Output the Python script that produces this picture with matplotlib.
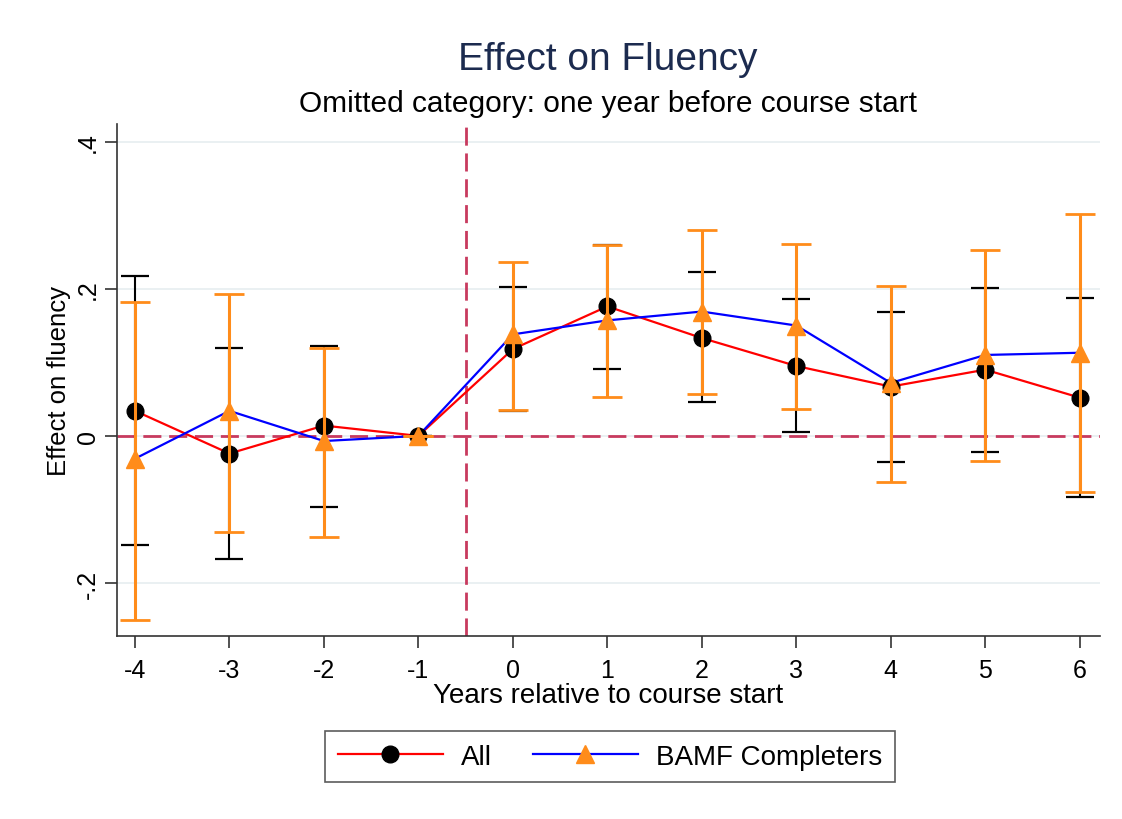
import matplotlib.pyplot as plt
from matplotlib.lines import Line2D

plt.rcParams['font.family'] = ['Liberation Sans', 'DejaVu Sans']

years = [-4, -3, -2, -1, 0, 1, 2, 3, 4, 5, 6]

all_est = [0.034, -0.024, 0.014, 0.0, 0.118, 0.176, 0.133, 0.095, 0.067, 0.090, 0.052]
all_hi = [0.218, 0.120, 0.122, 0.0, 0.203, 0.260, 0.223, 0.186, 0.169, 0.201, 0.188]
all_lo = [-0.148, -0.167, -0.097, 0.0, 0.034, 0.091, 0.046, 0.005, -0.035, -0.022, -0.083]

bamf_est = [-0.031, 0.034, -0.007, 0.0, 0.138, 0.157, 0.169, 0.150, 0.072, 0.110, 0.113]
bamf_hi = [0.182, 0.193, 0.120, 0.0, 0.237, 0.260, 0.280, 0.261, 0.204, 0.253, 0.302]
bamf_lo = [-0.250, -0.131, -0.138, 0.0, 0.035, 0.053, 0.057, 0.037, -0.063, -0.034, -0.076]

yticks = [-0.2, 0, 0.2, 0.4]
ytick_labels = ['-.2', '0', '.2', '.4']

navy = '#1c2b4f'
orange = '#ff8c1a'
ref_col = '#c83a5e'

fig = plt.figure(figsize=(11.22, 8.2), dpi=100)
ax = fig.add_axes([0.1043, 0.2232, 0.8757, 0.6244])

ax.axhline(0, color=ref_col, lw=2.0, ls=(0, (6.5, 2.8)), zorder=1)
ax.axvline(-0.5, color=ref_col, lw=2.0, ls=(0, (6.5, 2.8)), zorder=1)

# black CIs for All
err_all = [[e - l for e, l in zip(all_est, all_lo)], [h - e for e, h in zip(all_est, all_hi)]]
ax.errorbar(years, all_est, yerr=err_all, fmt='none', ecolor='black', elinewidth=1.5,
            capsize=10, capthick=1.6, zorder=2)
ax.plot(years, all_est, color='red', lw=1.6, zorder=3)
ax.plot(years, all_est, 'o', color='black', ms=12, zorder=4, ls='none')

ax.plot(years, bamf_est, color='blue', lw=1.6, zorder=3)
err_b = [[e - l for e, l in zip(bamf_est, bamf_lo)], [h - e for e, h in zip(bamf_est, bamf_hi)]]
ax.errorbar(years, bamf_est, yerr=err_b, fmt='none', ecolor=orange, elinewidth=2.2,
            capsize=11, capthick=2.0, zorder=5)
ax.plot(years, bamf_est, '^', color=orange, ms=13, zorder=6, ls='none')

ax.set_xlim(-4.19, 6.21)
ax.set_ylim(-0.272, 0.424)
ax.set_xticks(years)
ax.set_xticklabels([str(y) for y in years], fontsize=18)
ax.set_yticks(yticks)
ax.set_yticklabels(ytick_labels, fontsize=18, rotation=90, va='center')
ax.tick_params(axis='both', length=8.5, width=1.2, color='#333333')
ax.tick_params(axis='x', pad=7)
ax.tick_params(axis='y', pad=4)
ax.grid(axis='y', color='#e6eef0', lw=1.2, zorder=0)
ax.set_axisbelow(True)
for s in ['top', 'right']:
    ax.spines[s].set_visible(False)
for s in ['left', 'bottom']:
    ax.spines[s].set_color('#333333')
    ax.spines[s].set_linewidth(1.2)

ax.set_xlabel('Years relative to course start', fontsize=20, labelpad=0)
ax.set_ylabel('Effect on fluency', fontsize=18.5, labelpad=3)

fig.text(0.542, 0.927, 'Effect on Fluency', fontsize=28, color=navy, ha='center', va='center')
fig.text(0.542, 0.873, 'Omitted category: one year before course start', fontsize=21.5,
         color='black', ha='center', va='center')

handles = [
    Line2D([0], [0], color='red', lw=1.6, marker='o', mfc='black', mec='black', ms=12),
    Line2D([0], [0], color='blue', lw=1.6, marker='^', mfc=orange, mec=orange, ms=13),
]
leg = fig.legend(handles, ['All', 'BAMF Completers'], loc='center', ncol=2,
                 bbox_to_anchor=(0.5437, 0.0762), fontsize=20, frameon=True, fancybox=False,
                 edgecolor='#333333', handlelength=3.8, handletextpad=0.65,
                 columnspacing=1.45, borderpad=0.45)
leg.get_frame().set_linewidth(1.2)

fig.savefig('out.png', dpi=100)
